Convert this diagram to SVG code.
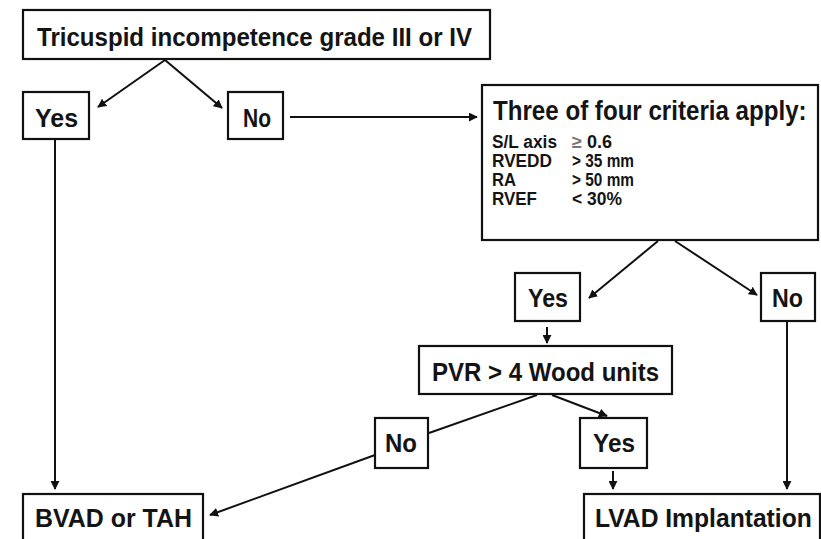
<svg xmlns="http://www.w3.org/2000/svg" width="821" height="539" viewBox="0 0 821 539">
<style>
.box{fill:#fff;stroke:#111;stroke-width:2.2}
.t{font-family:"Liberation Sans",Arial,sans-serif;font-weight:bold;fill:#141414}
.big{font-size:26px}
.sm{font-size:18px}
.ln{stroke:#111;stroke-width:2;fill:none}
</style>
<defs>
<marker id="ah" viewBox="0 0 10 10" refX="9" refY="5" markerWidth="9" markerHeight="9" markerUnits="userSpaceOnUse" orient="auto">
<path d="M0,0 L10,5 L0,10 z" fill="#111"/>
</marker>
</defs>
<rect width="821" height="539" fill="#fff"/>
<g id="connectors">
<line class="ln" x1="165" y1="60" x2="98" y2="107" marker-end="url(#ah)"/>
<line class="ln" x1="165" y1="60" x2="222" y2="108" marker-end="url(#ah)"/>
<line class="ln" x1="290" y1="117" x2="477" y2="117" marker-end="url(#ah)"/>
<line class="ln" x1="55" y1="139" x2="55" y2="489" marker-end="url(#ah)"/>
<line class="ln" x1="658" y1="241" x2="589" y2="298" marker-end="url(#ah)"/>
<line class="ln" x1="675" y1="241" x2="757" y2="295" marker-end="url(#ah)"/>
<line class="ln" x1="547" y1="327" x2="547" y2="343" marker-end="url(#ah)"/>
<line class="ln" x1="787" y1="321" x2="787" y2="489" marker-end="url(#ah)"/>
<line class="ln" x1="537" y1="395" x2="429" y2="433"/>
<line class="ln" x1="552" y1="395" x2="607" y2="416" marker-end="url(#ah)"/>
<line class="ln" x1="375" y1="455" x2="210" y2="515" marker-end="url(#ah)"/>
<line class="ln" x1="613" y1="471" x2="613" y2="489" marker-end="url(#ah)"/>
</g>
<g id="top">
<rect class="box" x="23" y="10" width="467" height="49"/>
<text class="t big" x="37" y="46" textLength="435" lengthAdjust="spacingAndGlyphs">Tricuspid incompetence grade III or IV</text>
</g>
<g id="yes1">
<rect class="box" x="23" y="92" width="66" height="47"/>
<text class="t big" x="35" y="127" textLength="43" lengthAdjust="spacingAndGlyphs">Yes</text>
</g>
<g id="no1">
<rect class="box" x="228" y="92" width="55" height="47"/>
<text class="t big" x="243" y="127" textLength="28" lengthAdjust="spacingAndGlyphs">No</text>
</g>
<g id="criteria">
<rect class="box" x="482" y="85" width="336" height="155"/>
<text class="t" font-size="27" transform="translate(493,120) scale(0.85,1)" x="0" y="0" textLength="369" lengthAdjust="spacingAndGlyphs">Three of four criteria apply:</text>
<text class="t sm" x="492" y="148" textLength="65" lengthAdjust="spacingAndGlyphs">S/L axis</text>
<text class="t sm" x="572" y="148"><tspan fill="#777">≥</tspan> 0.6</text>
<text class="t sm" x="492" y="167" textLength="60" lengthAdjust="spacingAndGlyphs">RVEDD</text>
<text class="t sm" x="572" y="167" textLength="62" lengthAdjust="spacingAndGlyphs">&gt; 35 mm</text>
<text class="t sm" x="492" y="186" textLength="24" lengthAdjust="spacingAndGlyphs">RA</text>
<text class="t sm" x="572" y="186" textLength="62" lengthAdjust="spacingAndGlyphs">&gt; 50 mm</text>
<text class="t sm" x="492" y="205" textLength="45" lengthAdjust="spacingAndGlyphs">RVEF</text>
<text class="t sm" x="572" y="205" textLength="50" lengthAdjust="spacingAndGlyphs">&lt; 30%</text>
</g>
<g id="yes2">
<rect class="box" x="515" y="273" width="65" height="48"/>
<text class="t big" x="528" y="307" textLength="40" lengthAdjust="spacingAndGlyphs">Yes</text>
</g>
<g id="no2">
<rect class="box" x="761" y="273" width="54" height="48"/>
<text class="t big" x="772" y="307" textLength="31" lengthAdjust="spacingAndGlyphs">No</text>
</g>
<g id="pvr">
<rect class="box" x="419" y="346" width="253" height="48"/>
<text class="t big" x="432" y="381" textLength="227" lengthAdjust="spacingAndGlyphs">PVR &gt; 4 Wood units</text>
</g>
<g id="no3">
<rect class="box" x="375" y="418" width="53" height="50"/>
<text class="t big" x="385" y="452" textLength="32" lengthAdjust="spacingAndGlyphs">No</text>
</g>
<g id="yes3">
<rect class="box" x="580" y="418" width="67" height="50"/>
<text class="t big" x="593" y="452" textLength="42" lengthAdjust="spacingAndGlyphs">Yes</text>
</g>
<g id="bvad">
<rect class="box" x="23" y="494" width="180" height="60"/>
<text class="t big" x="35" y="527" textLength="157" lengthAdjust="spacingAndGlyphs">BVAD or TAH</text>
</g>
<g id="lvad">
<rect class="box" x="584" y="494" width="236" height="60"/>
<text class="t big" transform="translate(595,527) scale(0.85,1)" x="0" y="0" textLength="255" lengthAdjust="spacingAndGlyphs">LVAD Implantation</text>
</g>
</svg>
